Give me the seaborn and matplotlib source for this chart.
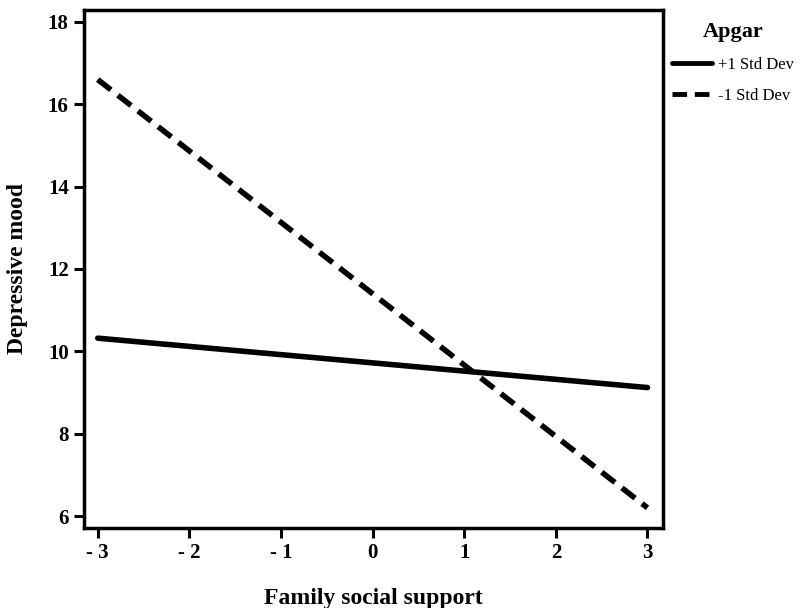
import pandas as pd
import matplotlib
matplotlib.use('Agg')
import matplotlib.pyplot as plt
import seaborn as sns

# Simple slopes
support = [-3, 3]
high_apgar = [10.32, 9.12]
low_apgar = [16.6, 6.2]
groups = ['+1 Std Dev', '-1 Std Dev']
x_ticks = [-3, -2, -1, 0, 1, 2, 3]
x_tick_labels = ['- 3', '- 2', '- 1', '0', '1', '2', '3']
y_ticks = [6, 8, 10, 12, 14, 16, 18]


def main():
    sns.set_theme(style='ticks')
    plt.rcParams['font.family'] = ['Liberation Serif', 'DejaVu Serif']
    plt.rcParams['text.color'] = 'black'
    plt.rcParams['axes.labelcolor'] = 'black'
    plt.rcParams['xtick.color'] = 'black'
    plt.rcParams['ytick.color'] = 'black'

    df = pd.DataFrame({
        'support': support * 2,
        'mood': high_apgar + low_apgar,
        'Apgar': [groups[0]] * 2 + [groups[1]] * 2,
    })

    fig = plt.figure(figsize=(8.03, 6.08), dpi=100)
    ax = fig.add_axes([0.1046, 0.1316, 0.7211, 0.852])

    sns.lineplot(data=df, x='support', y='mood', style='Apgar',
                 dashes={groups[0]: '', groups[1]: (3, 1.6)},
                 color='black', linewidth=4, ax=ax)

    ax.set_xlim(-3.15, 3.17)
    ax.set_ylim(5.71, 18.29)
    ax.set_xticks(x_ticks)
    ax.set_xticklabels(x_tick_labels)
    ax.set_yticks(y_ticks)
    for lab in ax.get_xticklabels() + ax.get_yticklabels():
        lab.set_fontweight('bold')
        lab.set_fontsize(15)
    ax.tick_params(direction='out', length=7, width=2.2, color='black', pad=4)

    for sp in ax.spines.values():
        sp.set_linewidth(2.5)
        sp.set_color('black')
        sp.set_visible(True)

    ax.set_xlabel('Family social support', fontsize=17, fontweight='bold', labelpad=18)
    ax.set_ylabel('Depressive mood', fontsize=17, fontweight='bold', labelpad=14)

    leg = ax.legend(title='Apgar', loc='upper left', bbox_to_anchor=(0.995, 1.0),
                    frameon=False, fontsize=12, handlelength=2.4,
                    borderaxespad=0.3, handletextpad=0.4, labelspacing=0.9)
    leg.get_title().set_fontweight('bold')
    leg.get_title().set_fontsize(16)
    for line in leg.get_lines():
        line.set_linewidth(3.5)

    fig.savefig('out.png', dpi=100)


if __name__ == "__main__":
    main()
